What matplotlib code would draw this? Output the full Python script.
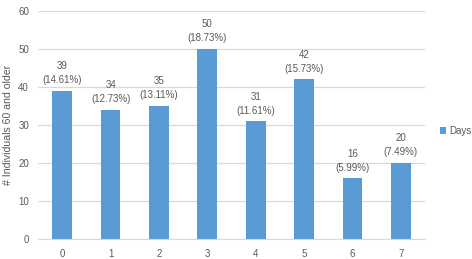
import matplotlib
matplotlib.use("Agg")
import matplotlib.pyplot as plt

categories = ["0", "1", "2", "3", "4", "5", "6", "7"]
values = [39, 34, 35, 50, 31, 42, 16, 20]
percents = ["14.61%", "12.73%", "13.11%", "18.73%", "11.61%", "15.73%", "5.99%", "7.49%"]
yticks = [0, 10, 20, 30, 40, 50, 60]

plt.rcParams['font.family'] = ['Liberation Sans', 'DejaVu Sans']
txt = '#595959'
bar_c = '#5B9BD5'

fig = plt.figure(figsize=(4.72, 2.59), dpi=100)
W, H = 472, 259
ax = fig.add_axes([38 / W, 1 - 239 / H, (425 - 38) / W, (239 - 11) / H])

x = list(range(len(categories)))
bars = ax.bar(x, values, width=0.41, color=bar_c, zorder=3, label='Days')
ax.set_xlim(-0.5, len(categories) - 0.5)
ax.set_ylim(0, 60)
ax.set_yticks(yticks)
ax.set_xticks(x)
ax.set_xticklabels(categories)
ax.yaxis.grid(True, color='#D9D9D9', linewidth=0.9, zorder=0)
for s in ax.spines.values():
    s.set_visible(False)
ax.spines['bottom'].set_visible(True)
ax.spines['bottom'].set_color('#D9D9D9')
ax.tick_params(axis='both', length=0, colors=txt, labelsize=7)
ax.tick_params(axis='x', pad=7.5)
ax.tick_params(axis='y', pad=6.5)

for xi, v, p in zip(x, values, percents):
    ax.annotate(f"{v}\n({p})", (xi, v), xytext=(0, 4), textcoords='offset points',
                ha='center', va='bottom', fontsize=7, color=txt, linespacing=1.5)

ax.set_ylabel('# Individuals 60 and older', fontsize=7.6, color=txt, labelpad=3.5)

leg = fig.legend(handles=[bars], labels=['Days'], loc='center left',
                 bbox_to_anchor=(440 / W, 1 - 131 / H), frameon=False,
                 fontsize=7, handlelength=0.6, handleheight=0.6, handletextpad=0.35,
                 borderpad=0, borderaxespad=0)
for t in leg.get_texts():
    t.set_color(txt)

fig.savefig('out.png', dpi=100)
